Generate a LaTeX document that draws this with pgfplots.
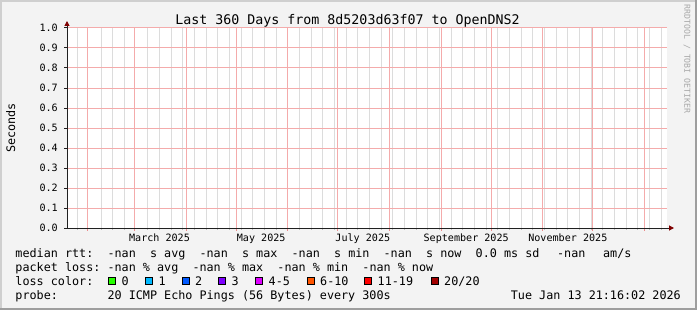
\documentclass[border=0pt]{standalone}
\usepackage{fontspec}
\usepackage{pgfplots}
\pgfplotsset{compat=1.18}
\usetikzlibrary{arrows.meta}
\setmainfont{DejaVu Sans Mono}
\definecolor{bgc}{HTML}{F3F3F3}
\definecolor{shadea}{HTML}{CFCFCF}
\definecolor{shadeb}{HTML}{9E9E9E}
\definecolor{mgridc}{HTML}{F4ABAB}
\definecolor{mtickc}{HTML}{EC8A8A}
\definecolor{mingridc}{HTML}{DCDCDC}
\definecolor{mintickc}{HTML}{BEBEBE}
\definecolor{axisc}{HTML}{202020}
\definecolor{arrowc}{HTML}{7F0000}
\definecolor{rrdc}{HTML}{A8A8A8}
\definecolor{lc0}{HTML}{26FF00}
\definecolor{lc1}{HTML}{00B8FF}
\definecolor{lc2}{HTML}{0059FF}
\definecolor{lc3}{HTML}{7E00FF}
\definecolor{lc4}{HTML}{DD00FF}
\definecolor{lc5}{HTML}{FF5500}
\definecolor{lc6}{HTML}{FF0000}
\definecolor{lc7}{HTML}{A10000}
\tikzset{
  redgrid/.style={draw=mgridc, line width=1bp},
  graygrid/.style={draw=mingridc, line width=1bp},
}
\newcommand\legfont{\fontsize{11.76bp}{13bp}\selectfont}
\newcommand\tickfont{\fontsize{10.1bp}{12bp}\selectfont}
% text at column #1 (monospace grid), baseline #2 from top
\newcommand\C[3]{\node[anchor=base west,inner sep=0pt,font=\legfont] at ({15.3+7.08*#1},{310-#2}) {#3};}
\newcommand\T[3]{\node[anchor=base west,inner sep=0pt,font=\legfont] at (#1,{310-#2}) {#3};}
\newcommand\B[3]{\filldraw[fill=#3,draw=black,line width=1bp] ({#1+0.5},{310-#2+1.3}) rectangle ++(7,7);}
\begin{document}
\begin{tikzpicture}
\begin{scope}[x=1bp,y=1bp]
\useasboundingbox (0,0) rectangle (697,310);
\fill[bgc] (0,0) rectangle (697,310);
\fill[shadea] (0,307.5) rectangle (697,310);
\fill[shadea] (0,0) rectangle (2,310);
\fill[shadeb] (0,0) rectangle (697,2.5);
\fill[shadeb] (694.5,0) rectangle (697,310);
\end{scope}
\begin{axis}[
  at={(67bp,82bp)}, anchor=south west,
  scale only axis, width=600bp, height=200bp,
  xmin=0, xmax=360, ymin=0, ymax=1,
  clip=false, axis on top,
  axis background/.style={fill=white},
  axis lines=left,
  axis line style={draw=axisc, line width=1bp},
  x axis line style={-{Triangle[length=5bp,width=5bp,color=arrowc]}, shorten >=-7bp},
  y axis line style={-{Triangle[length=5bp,width=5bp,color=arrowc]}, shorten >=-7bp},
  xtick=\empty,
  extra x ticks={55.5,116.5,177.5,239.5,300.5},
  extra x tick labels={March 2025,May 2025,July 2025,September 2025,November 2025},
  extra x tick style={major tick length=0pt,
     xticklabel style={anchor=base, inner sep=0pt, yshift=-13bp}},
  ytick={0,0.1,0.2,0.3,0.4,0.5,0.6,0.7,0.8,0.9,1},
  yticklabels={0.0,0.1,0.2,0.3,0.4,0.5,0.6,0.7,0.8,0.9,1.0},
  yticklabel style={anchor=east, inner sep=0pt, xshift=-6bp},
  /pgf/number format/assume math mode=true,
  tick label style={font=\tickfont, text=black},
  tick align=outside,
  major tick length=3bp,
  every tick/.style={draw=axisc, line width=1bp},
]
% weekly minor grid (gray) with small ticks
\pgfplotsinvokeforeach{6.4,20.4,27.4,34.4,48.4,55.4,62.4,69.4,76.4,83.4,90.4,97.4,104.4,111.4,118.4,125.4,139.4,146.4,153.4,160.4,167.4,174.4,181.4,188.4,195.4,202.4,209.4,216.4,223.4,230.4,237.4,244.4,251.4,258.4,265.4,272.4,279.4,286.4,293.4,300.4,307.4,314.4,321.4,328.4,335.4,342.4,349.4,356.4}{
  \draw[graygrid] (axis cs:#1,0) -- (axis cs:#1,1);
  \draw[draw=mintickc, line width=1bp] (axis cs:#1,0) -- ++(0,-2bp);
}
% month major grid (red) with ticks
\pgfplotsinvokeforeach{12.5,40.5,71.5,101.5,132.5,162.5,193.5,224.5,254.5,285.5,315.5,346.5}{
  \draw[redgrid] (axis cs:#1,0) -- (axis cs:#1,1);
  \draw[draw=mtickc, line width=1bp] (axis cs:#1,0) -- ++(0,-3bp);
}
% horizontal major grid (red)
\pgfplotsinvokeforeach{0.1,0.2,0.3,0.4,0.5,0.6,0.7,0.8,0.9,1.0}{
  \draw[redgrid] (axis cs:0,#1) -- (axis cs:360,#1);
}
\end{axis}
\begin{scope}[x=1bp,y=1bp]
\node[anchor=base,inner sep=0pt,font=\fontsize{13.3bp}{15bp}\selectfont] at (347.5,285.5) {Last 360 Days from 8d5203d63f07 to OpenDNS2};
\node[rotate=90,inner sep=0pt,font=\legfont] at (10.8,182) {Seconds};
\node[rotate=-90,inner sep=0pt,text=rrdc,font=\fontsize{8.2bp}{9bp}\selectfont] at (687,251) {RRDTOOL / TOBI OETIKER};
% row 1
\C{0}{257.5}{median rtt:}
\C{13}{257.5}{-nan}
\C{19}{257.5}{s avg}
\C{26}{257.5}{-nan}
\C{32}{257.5}{s max}
\C{39}{257.5}{-nan}
\C{45}{257.5}{s min}
\C{52}{257.5}{-nan}
\C{58}{257.5}{s now}
\C{65}{257.5}{0.0 ms sd}
\C{76.5}{257.5}{-nan}
\C{83}{257.5}{am/s}
% row 2
\C{0}{271.5}{packet loss:}
\C{13}{271.5}{-nan \% avg}
\C{25}{271.5}{-nan \% max}
\C{37}{271.5}{-nan \% min}
\C{49}{271.5}{-nan \% now}
% row 3
\C{0}{285.5}{loss color:}
\B{108}{285.5}{lc0}\T{121.5}{285.5}{0}
\B{145}{285.5}{lc1}\T{158.5}{285.5}{1}
\B{181.5}{285.5}{lc2}\T{195}{285.5}{2}
\B{218}{285.5}{lc3}\T{231.5}{285.5}{3}
\B{255}{285.5}{lc4}\T{268.5}{285.5}{4-5}
\B{306.5}{285.5}{lc5}\T{320}{285.5}{6-10}
\B{364}{285.5}{lc6}\T{377.5}{285.5}{11-19}
\B{430.5}{285.5}{lc7}\T{444}{285.5}{20/20}
% row 4
\C{0}{299.5}{probe:}
\C{13}{299.5}{20 ICMP Echo Pings (56 Bytes) every 300s}
\node[anchor=base east,inner sep=0pt,font=\legfont] at (681,{310-299.5}) {Tue Jan 13 21:16:02 2026};
\end{scope}
\end{tikzpicture}
\end{document}
